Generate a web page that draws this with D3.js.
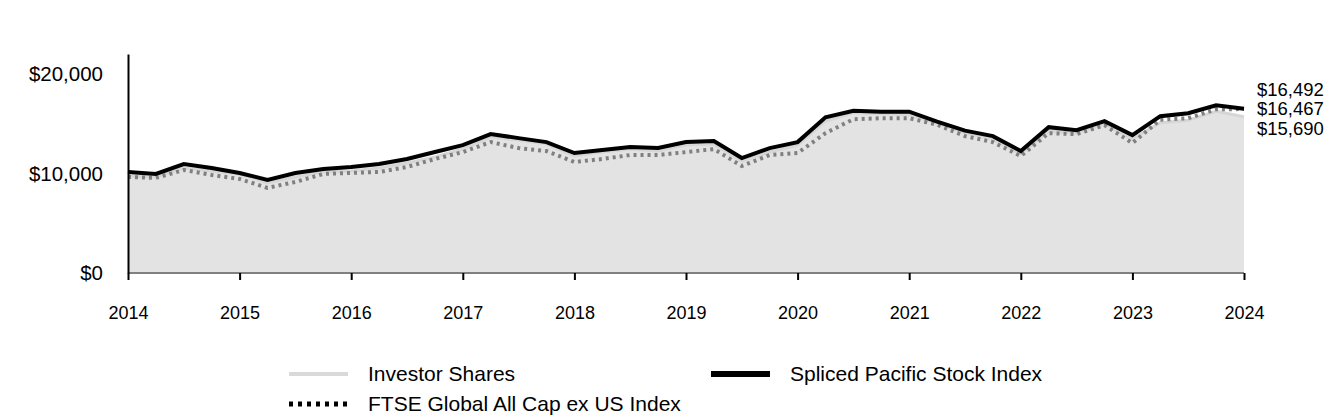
<!DOCTYPE html>
<html>
<head>
<meta charset="utf-8">
<script src="https://cdn.jsdelivr.net/npm/d3@7"></script>
<style>
  html, body { margin: 0; padding: 0; background: #fff; }
  svg { display: block; font-family: Arial, "Liberation Sans", sans-serif; }
</style>
</head>
<body>
<svg id="chart" width="1344" height="420"></svg>
<script>
// Quarterly dates 2014 Q0 .. 2024
const years = [2014, 2015, 2016, 2017, 2018, 2019, 2020, 2021, 2022, 2023, 2024];
const yTicks = [0, 10000, 20000];

const investorShares = [
  9750, 9650, 10550, 10250, 9950, 9050, 9650, 10150, 10250, 10550, 11050, 11650,
  12450, 13650, 13350, 12950, 11750, 12150, 12450, 12250, 12850, 12950, 11250, 12150,
  12850, 15250, 16100, 16000, 15900, 15000, 14050, 13450, 11950, 14250, 14050, 14950,
  13450, 15100, 15350, 16250, 15690
];
const splicedIndex = [
  10150, 9950, 10950, 10550, 10050, 9350, 10050, 10450, 10650, 10950, 11450, 12150,
  12850, 13950, 13550, 13150, 12050, 12350, 12650, 12550, 13150, 13250, 11550, 12550,
  13150, 15650, 16300, 16200, 16200, 15200, 14300, 13750, 12250, 14650, 14350, 15250,
  13850, 15750, 16050, 16850, 16492
];
const ftseIndex = [
  9650, 9550, 10350, 9850, 9450, 8550, 9150, 9950, 10050, 10150, 10650, 11450,
  12150, 13150, 12550, 12250, 11150, 11450, 11850, 11850, 12150, 12450, 10750, 11850,
  12050, 14050, 15450, 15550, 15550, 14900, 13750, 13150, 11750, 14050, 13950, 14850,
  13050, 15400, 15550, 16450, 16467
];
const endLabels = ["$16,492", "$16,467", "$15,690"];
const legendNames = ["Investor Shares", "Spliced Pacific Stock Index", "FTSE Global All Cap ex US Index"];

const svg = d3.select("#chart");
const x = d3.scaleLinear().domain([2014, 2024]).range([128, 1244]);
const y = d3.scaleLinear().domain([0, 22000]).range([273, 54]);
const t = i => 2014 + i / 4;

// Area for investor shares
svg.append("path")
  .datum(investorShares)
  .attr("fill", "#e3e3e3")
  .attr("d", d3.area().x((d, i) => x(t(i))).y0(y(0)).y1(d => y(d)));

const line = d3.line().x((d, i) => x(t(i))).y(d => y(d));

svg.append("path").datum(investorShares)
  .attr("fill", "none").attr("stroke", "#d6d6d6").attr("stroke-width", 3)
  .attr("d", line);
svg.append("path").datum(ftseIndex)
  .attr("fill", "none").attr("stroke", "#808080").attr("stroke-width", 4)
  .attr("stroke-dasharray", "3,4")
  .attr("d", line);
svg.append("path").datum(splicedIndex)
  .attr("fill", "none").attr("stroke", "#000").attr("stroke-width", 4)
  .attr("stroke-linejoin", "miter")
  .attr("d", line);

// X axis
const xAxis = svg.append("g").attr("transform", `translate(0,${y(0)})`)
  .call(d3.axisBottom(x).tickValues(years).tickFormat(d3.format("d")).tickSize(7).tickPadding(26));
xAxis.select(".domain").attr("stroke", "#808080").attr("stroke-width", 2).attr("d", `M${x(2014)},0H${x(2024)}`);
xAxis.selectAll(".tick line").attr("stroke", "#000").attr("stroke-width", 2);
xAxis.selectAll(".tick text").attr("font-size", 18).attr("fill", "#000")
  .attr("font-family", "Arial, 'Liberation Sans', sans-serif");

// Y axis
const yAxis = svg.append("g").attr("transform", `translate(${x(2014)},0)`)
  .call(d3.axisLeft(y).tickValues(yTicks).tickFormat(d => "$" + d3.format(",")(d)).tickSize(0).tickPadding(25));
yAxis.select(".domain").attr("stroke", "#000").attr("stroke-width", 2);
yAxis.selectAll(".tick text").attr("font-size", 20.5).attr("fill", "#000")
  .attr("font-family", "Arial, 'Liberation Sans', sans-serif");

// End labels
const endY = [90, 109, 129];
endLabels.forEach((lab, i) => {
  svg.append("text").attr("x", 1257).attr("y", endY[i]).attr("dy", "0.35em")
    .attr("font-size", 18.5).attr("fill", "#000").text(lab);
});

// Legend
const legend = [
  { name: legendNames[0], x: 289, y: 374, stroke: "#d9d9d9", w: 4, dash: null },
  { name: legendNames[1], x: 711, y: 374, stroke: "#000", w: 6, dash: null },
  { name: legendNames[2], x: 289, y: 404, stroke: "#000", w: 5, dash: "4,5" }
];
legend.forEach(l => {
  svg.append("line").attr("x1", l.x).attr("x2", l.x + 59).attr("y1", l.y).attr("y2", l.y)
    .attr("stroke", l.stroke).attr("stroke-width", l.w)
    .attr("stroke-dasharray", l.dash);
  svg.append("text").attr("x", l.x + 79).attr("y", l.y).attr("dy", "0.35em")
    .attr("font-size", 21).attr("fill", "#000").text(l.name);
});
</script>
</body>
</html>
